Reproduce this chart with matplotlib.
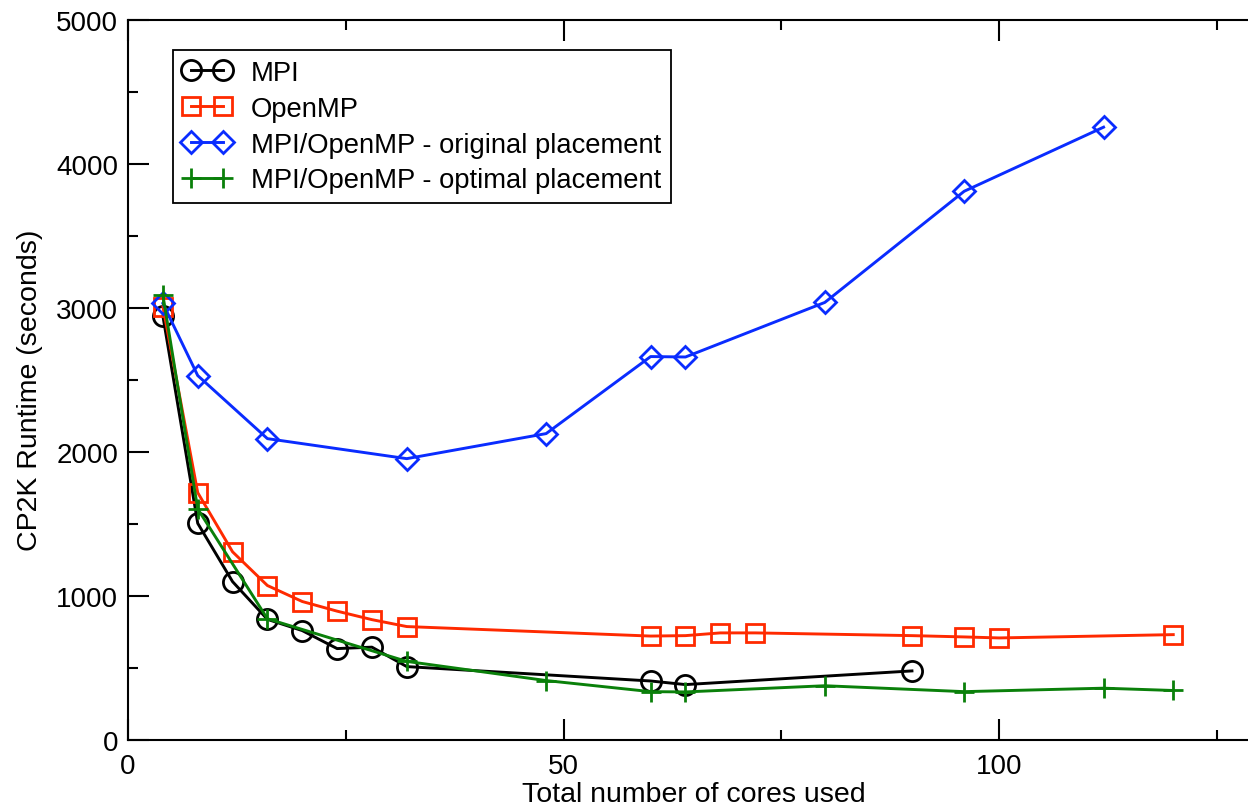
import matplotlib
matplotlib.use("Agg")
import matplotlib.pyplot as plt

plt.rcParams['font.family'] = ['Liberation Sans', 'DejaVu Sans']

mpi_x = [4, 8, 12, 16, 20, 24, 28, 32, 60, 64, 90]
mpi_y = [2945, 1505, 1100, 838, 760, 635, 645, 510, 410, 385, 480]

omp_x = [4, 8, 12, 16, 20, 24, 28, 32, 60, 64, 68, 72, 90, 96, 100, 120]
omp_y = [3010, 1718, 1307, 1073, 962, 895, 836, 788, 722, 725, 744, 744, 725, 716, 709, 732]

orig_x = [4, 8, 16, 32, 48, 60, 64, 80, 96, 112]
orig_y = [3032, 2531, 2093, 1954, 2128, 2663, 2660, 3039, 3811, 4256]

opt_x = [4, 8, 16, 32, 48, 60, 64, 80, 96, 112, 120]
opt_y = [3090, 1605, 842, 546, 413, 336, 334, 377, 336, 360, 344]

labels = ["MPI", "OpenMP", "MPI/OpenMP - original placement", "MPI/OpenMP - optimal placement"]

fig = plt.figure(figsize=(12.48, 8.12), dpi=100)
ax = fig.add_axes([0.1026, 0.0874, 0.9073, 0.8867])

lw = 2.1
mew = 2.0
ax.plot(mpi_x, mpi_y, color='black', lw=lw, marker='o', ms=14.5, mfc='none', mew=mew, label=labels[0], zorder=3)
ax.plot(omp_x, omp_y, color='#ff2a00', lw=lw, marker='s', ms=13, mfc='none', mew=mew, label=labels[1], zorder=3)
ax.plot(orig_x, orig_y, color='#0a2cff', lw=lw, marker='D', ms=11.5, mfc='none', mew=mew, label=labels[2], zorder=3)
ax.plot(opt_x, opt_y, color='#0a800a', lw=lw, marker='+', ms=15, mew=mew, label=labels[3], zorder=4)

ax.set_xlim(0, 130)
ax.set_ylim(0, 5000)
ax.set_xticks([0, 50, 100])
ax.set_xticks([25, 75, 125], minor=True)
ax.set_yticks([0, 1000, 2000, 3000, 4000, 5000])
ax.set_yticks([500, 1500, 2500, 3500, 4500], minor=True)
ax.tick_params(which='both', direction='in', top=True, right=False, width=1.5, labelsize=20)
ax.tick_params(which='major', length=15)
ax.tick_params(which='minor', length=7.5)
ax.tick_params(axis='y', pad=7)
ax.tick_params(axis='x', pad=9)
for s in ax.spines.values():
    s.set_linewidth(1.5)

ax.set_ylabel("CP2K Runtime (seconds)", fontsize=20.5)
ax.set_xlabel("Total number of cores used", fontsize=20.5)
ax.yaxis.set_label_coords(-0.075, 0.4875)
ax.xaxis.set_label_coords(0.5, -0.0569)

leg = ax.legend(loc='upper left', bbox_to_anchor=(0.0395, 0.958), fontsize=19.7,
                numpoints=2, handlelength=1.8, handletextpad=0.7, labelspacing=0.36,
                borderpad=0.35, fancybox=False, framealpha=1, edgecolor='black',
                borderaxespad=0)
leg.get_frame().set_linewidth(1.3)

fig.savefig("out.png", dpi=100)
